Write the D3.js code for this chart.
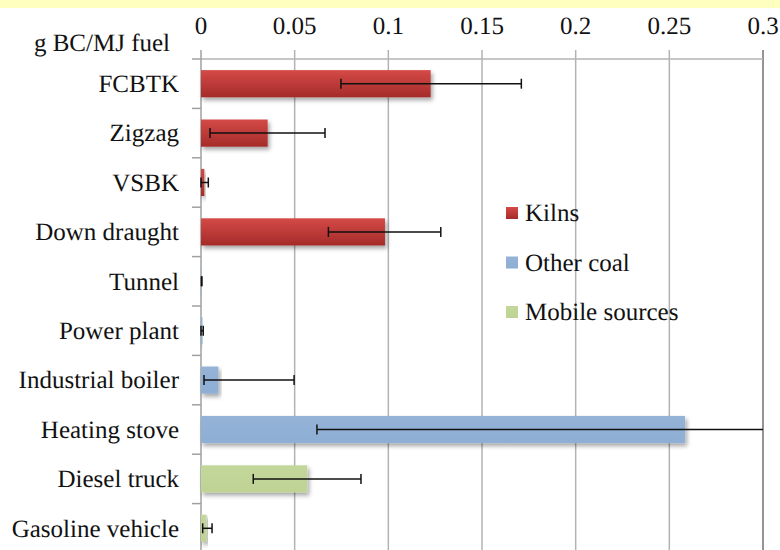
<!DOCTYPE html>
<html>
<head>
<meta charset="utf-8">
<script src="https://cdn.jsdelivr.net/npm/d3@7"></script>
<style>
  body { margin: 0; background: #fff; }
  .lbl { font-family: "Liberation Serif", "Times New Roman", Times; font-size: 25px; fill: #111; text-rendering: geometricPrecision; }
</style>
</head>
<body>
<div id="chart"></div>
<script>
const categories = ["FCBTK", "Zigzag", "VSBK", "Down draught", "Tunnel", "Power plant",
  "Industrial boiler", "Heating stove", "Diesel truck", "Gasoline vehicle"];
const groups = ["Kilns", "Kilns", "Kilns", "Kilns", "Other coal", "Other coal",
  "Other coal", "Other coal", "Mobile sources", "Mobile sources"];
const values = [0.1226, 0.0356, 0.0018, 0.0982, 0.0003, 0.0008, 0.0093, 0.2584, 0.0567, 0.003];
const errLow = [0.0747, 0.0048, 0.0, 0.068, 0.0002, 0.0, 0.0016, 0.0619, 0.0279, 0.0009];
const errHigh = [0.171, 0.0662, 0.0039, 0.128, 0.0005, 0.0012, 0.0497, 0.455, 0.0854, 0.0059];
const legendNames = ["Kilns", "Other coal", "Mobile sources"];
const tickValues = [0, 0.05, 0.1, 0.15, 0.2, 0.25, 0.3];
const tickLabels = ["0", "0.05", "0.1", "0.15", "0.2", "0.25", "0.3"];
const unitLabel = "g BC/MJ fuel";

const W = 780, H = 550;
const plotLeft = 201, plotRight = 763, plotTop = 59, plotBottom = 553;

const svg = d3.select("#chart").append("svg").attr("width", W).attr("height", H);

const defs = svg.append("defs");
const colors = {
  "Kilns": ["#d44a47", "#a52b29"],
  "Other coal": ["#95b3d7", "#8eaed4"],
  "Mobile sources": ["#c4d79b", "#bfd395"]
};
legendNames.forEach((g, i) => {
  const grad = defs.append("linearGradient").attr("id", "grad" + i)
    .attr("x1", 0).attr("y1", 0).attr("x2", 0).attr("y2", 1);
  grad.append("stop").attr("offset", "0%").attr("stop-color", colors[g][0]);
  grad.append("stop").attr("offset", "100%").attr("stop-color", colors[g][1]);
});
const shadow = defs.append("filter").attr("id", "shadow")
  .attr("x", "-10%").attr("y", "-30%").attr("width", "130%").attr("height", "180%");
shadow.append("feDropShadow").attr("dx", 2).attr("dy", 3).attr("stdDeviation", 2)
  .attr("flood-color", "#000").attr("flood-opacity", 0.35);
defs.append("clipPath").attr("id", "plotclip").append("rect")
  .attr("x", plotLeft - 5).attr("y", plotTop).attr("width", plotRight - plotLeft + 5).attr("height", plotBottom - plotTop);

// yellow strip at the top
svg.append("rect").attr("x", 0).attr("y", 0).attr("width", W).attr("height", 8).attr("fill", "#ffffc0");

const x = d3.scaleLinear().domain([0, 0.3]).range([plotLeft, plotRight]);
const y = d3.scaleBand().domain(categories).range([plotTop, plotBottom]).paddingInner(0.45).paddingOuter(0.225);

// vertical gridlines + top ticks
svg.append("g").selectAll("line").data(tickValues.slice(1)).join("line")
  .attr("x1", d => x(d)).attr("x2", d => x(d))
  .attr("y1", plotTop - 9).attr("y2", H)
  .attr("stroke", d => d === 0.3 ? "#707070" : "#b3b3b3").attr("stroke-width", 1.5);

// top line
svg.append("line").attr("x1", plotLeft).attr("x2", plotRight).attr("y1", plotTop).attr("y2", plotTop)
  .attr("stroke", "#b3b3b3").attr("stroke-width", 1.5);

// top tick labels
svg.append("g").selectAll("text").data(tickValues).join("text")
  .attr("class", "lbl")
  .attr("x", d => x(d)).attr("y", 34)
  .attr("text-anchor", "middle")
  .text((d, i) => tickLabels[i]);

// left axis with ticks at band boundaries
const step = y.step();
const bounds = d3.range(categories.length + 1).map(i => plotTop + i * step);
svg.append("line").attr("x1", plotLeft).attr("x2", plotLeft).attr("y1", plotTop - 9).attr("y2", H)
  .attr("stroke", "#a0a0a0").attr("stroke-width", 1.5);
svg.append("g").selectAll("line").data(bounds).join("line")
  .attr("x1", plotLeft - 9).attr("x2", plotLeft).attr("y1", d => d).attr("y2", d => d)
  .attr("stroke", "#a0a0a0").attr("stroke-width", 1.5);

svg.append("g").selectAll("text").data(categories).join("text")
  .attr("class", "lbl")
  .attr("x", plotLeft - 22).attr("y", d => y(d) + y.bandwidth() / 2)
  .attr("dy", "0.33em").attr("text-anchor", "end")
  .text(d => d);

svg.append("text").attr("class", "lbl").attr("x", 170).attr("y", 51)
  .attr("text-anchor", "end").text(unitLabel);

// bars
svg.append("g").selectAll("rect").data(categories).join("rect")
  .attr("x", x(0)).attr("y", d => y(d))
  .attr("width", (d, i) => x(values[i]) - x(0)).attr("height", y.bandwidth())
  .attr("fill", (d, i) => `url(#grad${legendNames.indexOf(groups[i])})`)
  .attr("filter", "url(#shadow)");

// error bars
const eb = svg.append("g").attr("clip-path", "url(#plotclip)")
  .attr("stroke", "#111").attr("stroke-width", 1.5);
categories.forEach((c, i) => {
  const cy = y(c) + y.bandwidth() / 2;
  eb.append("line").attr("x1", x(errLow[i])).attr("x2", x(errHigh[i])).attr("y1", cy).attr("y2", cy);
  [errLow[i], errHigh[i]].forEach(v => {
    eb.append("line").attr("x1", x(v)).attr("x2", x(v)).attr("y1", cy - 5).attr("y2", cy + 5);
  });
});

// legend
const legend = svg.append("g").attr("transform", "translate(506, 213)");
legendNames.forEach((g, i) => {
  const row = legend.append("g").attr("transform", `translate(0, ${i * 49.5})`);
  row.append("rect").attr("x", 0).attr("y", -6).attr("width", 12).attr("height", 12)
    .attr("fill", `url(#grad${i})`);
  row.append("text").attr("class", "lbl").attr("x", 19).attr("y", 0).attr("dy", "0.33em").text(g);
});
</script>
</body>
</html>
